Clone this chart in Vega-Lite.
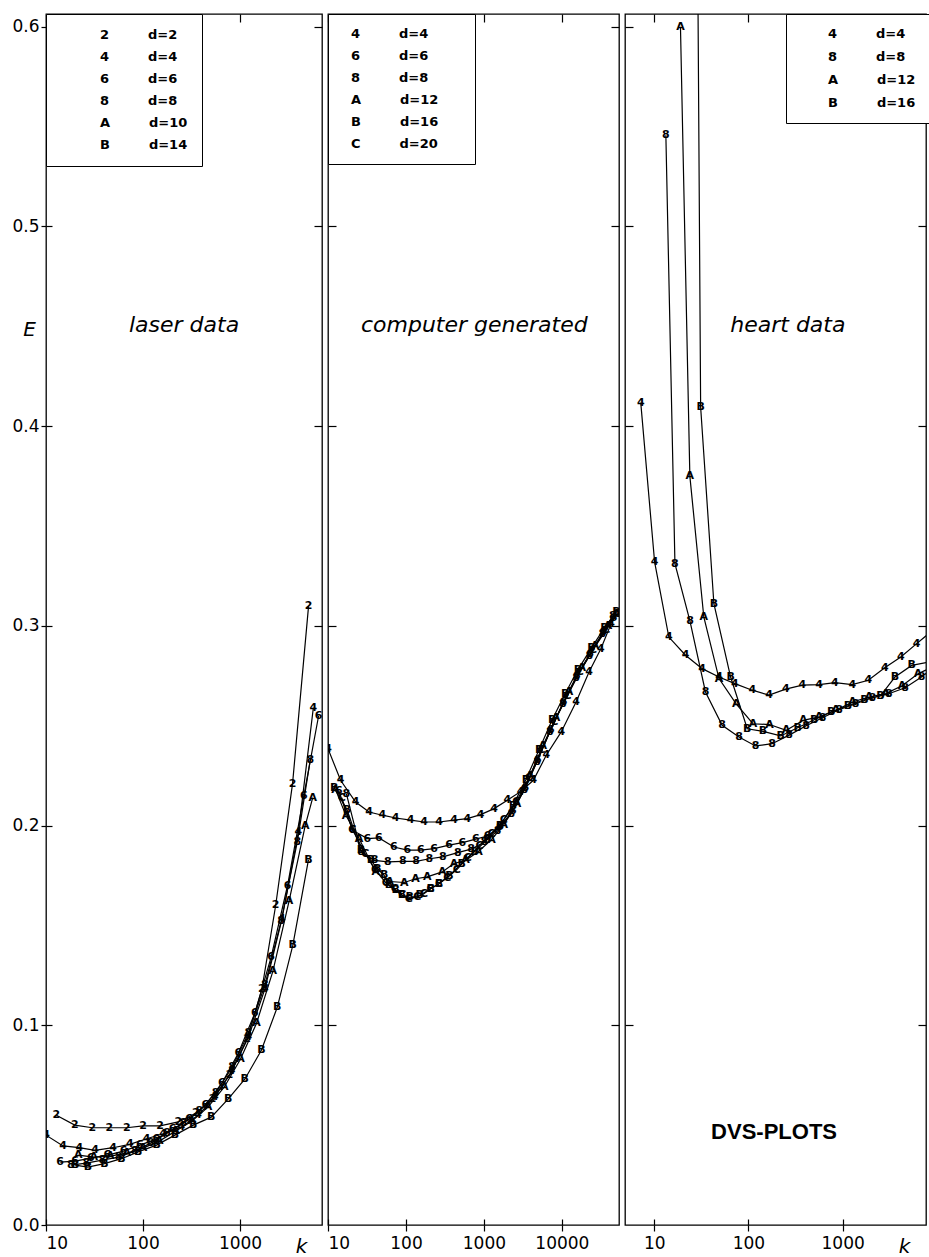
{
"$schema": "https://vega.github.io/schema/vega-lite/v6.json",
"background": "white",
"padding": {"left": 11, "top": 12, "right": 0, "bottom": 0},
"autosize": {"type": "pad"},
"bounds": "flush",
"spacing": 6,
"datasets": {
"laser": [
{"d":"d=2","s":"2","k":12.8,"E":0.055},{"d":"d=2","s":"2","k":19.8,"E":0.050},{"d":"d=2","s":"2","k":30,"E":0.0487},{"d":"d=2","s":"2","k":45,"E":0.0487},{"d":"d=2","s":"2","k":68,"E":0.0487},{"d":"d=2","s":"2","k":100,"E":0.0496},{"d":"d=2","s":"2","k":150,"E":0.0496},{"d":"d=2","s":"2","k":231,"E":0.0516},{"d":"d=2","s":"2","k":350,"E":0.056},{"d":"d=2","s":"2","k":520,"E":0.063},{"d":"d=2","s":"2","k":780,"E":0.075},{"d":"d=2","s":"2","k":1180,"E":0.093},{"d":"d=2","s":"2","k":1680,"E":0.118},{"d":"d=2","s":"2","k":2330,"E":0.160},{"d":"d=2","s":"2","k":3480,"E":0.221},{"d":"d=2","s":"2","k":5090,"E":0.310},
{"d":"d=4","s":"4","k":10,"E":0.045},{"d":"d=4","s":"4","k":15,"E":0.0396},{"d":"d=4","s":"4","k":22,"E":0.0387},{"d":"d=4","s":"4","k":32,"E":0.0374},{"d":"d=4","s":"4","k":49,"E":0.0387},{"d":"d=4","s":"4","k":73,"E":0.0404},{"d":"d=4","s":"4","k":109,"E":0.0432},{"d":"d=4","s":"4","k":161,"E":0.0457},{"d":"d=4","s":"4","k":249,"E":0.049},{"d":"d=4","s":"4","k":370,"E":0.055},{"d":"d=4","s":"4","k":550,"E":0.064},{"d":"d=4","s":"4","k":820,"E":0.077},{"d":"d=4","s":"4","k":1220,"E":0.094},{"d":"d=4","s":"4","k":1800,"E":0.118},{"d":"d=4","s":"4","k":2700,"E":0.153},{"d":"d=4","s":"4","k":4000,"E":0.197},{"d":"d=4","s":"4","k":5700,"E":0.259},
{"d":"d=6","s":"6","k":14,"E":0.0315},{"d":"d=6","s":"6","k":20,"E":0.032},{"d":"d=6","s":"6","k":29,"E":0.0335},{"d":"d=6","s":"6","k":43,"E":0.035},{"d":"d=6","s":"6","k":63,"E":0.037},{"d":"d=6","s":"6","k":93,"E":0.040},{"d":"d=6","s":"6","k":137,"E":0.043},{"d":"d=6","s":"6","k":202,"E":0.048},{"d":"d=6","s":"6","k":298,"E":0.053},{"d":"d=6","s":"6","k":440,"E":0.060},{"d":"d=6","s":"6","k":650,"E":0.071},{"d":"d=6","s":"6","k":960,"E":0.086},{"d":"d=6","s":"6","k":1420,"E":0.106},{"d":"d=6","s":"6","k":2090,"E":0.134},{"d":"d=6","s":"6","k":3090,"E":0.170},{"d":"d=6","s":"6","k":4550,"E":0.215},{"d":"d=6","s":"6","k":6460,"E":0.255},
{"d":"d=8","s":"8","k":18,"E":0.030},{"d":"d=8","s":"8","k":26,"E":0.031},{"d":"d=8","s":"8","k":38,"E":0.0325},{"d":"d=8","s":"8","k":56,"E":0.034},{"d":"d=8","s":"8","k":82,"E":0.037},{"d":"d=8","s":"8","k":120,"E":0.041},{"d":"d=8","s":"8","k":177,"E":0.046},{"d":"d=8","s":"8","k":260,"E":0.051},{"d":"d=8","s":"8","k":380,"E":0.057},{"d":"d=8","s":"8","k":560,"E":0.066},{"d":"d=8","s":"8","k":830,"E":0.079},{"d":"d=8","s":"8","k":1220,"E":0.096},{"d":"d=8","s":"8","k":1800,"E":0.120},{"d":"d=8","s":"8","k":2650,"E":0.152},{"d":"d=8","s":"8","k":3900,"E":0.192},{"d":"d=8","s":"8","k":5300,"E":0.233},
{"d":"d=10","s":"A","k":21.5,"E":0.035},{"d":"d=10","s":"A","k":31,"E":0.034},{"d":"d=10","s":"A","k":46,"E":0.0345},{"d":"d=10","s":"A","k":68,"E":0.036},{"d":"d=10","s":"A","k":100,"E":0.0385},{"d":"d=10","s":"A","k":147,"E":0.042},{"d":"d=10","s":"A","k":216,"E":0.047},{"d":"d=10","s":"A","k":318,"E":0.052},{"d":"d=10","s":"A","k":467,"E":0.059},{"d":"d=10","s":"A","k":686,"E":0.069},{"d":"d=10","s":"A","k":1010,"E":0.083},{"d":"d=10","s":"A","k":1480,"E":0.101},{"d":"d=10","s":"A","k":2180,"E":0.127},{"d":"d=10","s":"A","k":3200,"E":0.162},{"d":"d=10","s":"A","k":4700,"E":0.200},{"d":"d=10","s":"A","k":5620,"E":0.214},
{"d":"d=14","s":"B","k":20,"E":0.030},{"d":"d=14","s":"B","k":27,"E":0.029},{"d":"d=14","s":"B","k":40,"E":0.0307},{"d":"d=14","s":"B","k":60,"E":0.0332},{"d":"d=14","s":"B","k":89,"E":0.0366},{"d":"d=14","s":"B","k":138,"E":0.040},{"d":"d=14","s":"B","k":213,"E":0.045},{"d":"d=14","s":"B","k":330,"E":0.050},{"d":"d=14","s":"B","k":505,"E":0.054},{"d":"d=14","s":"B","k":753,"E":0.063},{"d":"d=14","s":"B","k":1120,"E":0.073},{"d":"d=14","s":"B","k":1660,"E":0.0875},{"d":"d=14","s":"B","k":2420,"E":0.109},{"d":"d=14","s":"B","k":3500,"E":0.140},{"d":"d=14","s":"B","k":5080,"E":0.183}
],
"computer": [
{"d":"d=4","s":"4","k":10,"E":0.2385},{"d":"d=4","s":"4","k":14.5,"E":0.2227},{"d":"d=4","s":"4","k":22.6,"E":0.2118},{"d":"d=4","s":"4","k":33.6,"E":0.2068},{"d":"d=4","s":"4","k":49.8,"E":0.2052},{"d":"d=4","s":"4","k":73.8,"E":0.2038},{"d":"d=4","s":"4","k":115,"E":0.2027},{"d":"d=4","s":"4","k":171,"E":0.2018},{"d":"d=4","s":"4","k":266,"E":0.2018},{"d":"d=4","s":"4","k":414,"E":0.2027},{"d":"d=4","s":"4","k":612,"E":0.2035},{"d":"d=4","s":"4","k":908,"E":0.2055},{"d":"d=4","s":"4","k":1349,"E":0.2085},{"d":"d=4","s":"4","k":2000,"E":0.2127},{"d":"d=4","s":"4","k":2950,"E":0.2170},{"d":"d=4","s":"4","k":4310,"E":0.2227},{"d":"d=4","s":"4","k":6300,"E":0.2352},{"d":"d=4","s":"4","k":9800,"E":0.2469},{"d":"d=4","s":"4","k":15200,"E":0.2619},{"d":"d=4","s":"4","k":22300,"E":0.2769},{"d":"d=4","s":"4","k":31600,"E":0.2886},{"d":"d=4","s":"4","k":42700,"E":0.301},
{"d":"d=6","s":"6","k":13.8,"E":0.2172},{"d":"d=6","s":"6","k":20.6,"E":0.1977},{"d":"d=6","s":"6","k":32,"E":0.1935},{"d":"d=6","s":"6","k":45,"E":0.1938},{"d":"d=6","s":"6","k":70,"E":0.1893},{"d":"d=6","s":"6","k":104,"E":0.1877},{"d":"d=6","s":"6","k":155,"E":0.1877},{"d":"d=6","s":"6","k":229,"E":0.1885},{"d":"d=6","s":"6","k":357,"E":0.1902},{"d":"d=6","s":"6","k":530,"E":0.1915},{"d":"d=6","s":"6","k":785,"E":0.1932},{"d":"d=6","s":"6","k":1110,"E":0.1948},{"d":"d=6","s":"6","k":1600,"E":0.1995},{"d":"d=6","s":"6","k":2350,"E":0.2075},{"d":"d=6","s":"6","k":3400,"E":0.2190},{"d":"d=6","s":"6","k":4900,"E":0.2330},{"d":"d=6","s":"6","k":7200,"E":0.2480},{"d":"d=6","s":"6","k":10500,"E":0.2620},{"d":"d=6","s":"6","k":15500,"E":0.2750},{"d":"d=6","s":"6","k":23000,"E":0.2860},{"d":"d=6","s":"6","k":34000,"E":0.2970},{"d":"d=6","s":"6","k":46000,"E":0.3040},
{"d":"d=8","s":"8","k":17.2,"E":0.216},{"d":"d=8","s":"8","k":26.6,"E":0.1868},{"d":"d=8","s":"8","k":39.5,"E":0.1826},{"d":"d=8","s":"8","k":58.5,"E":0.1818},{"d":"d=8","s":"8","k":91,"E":0.1821},{"d":"d=8","s":"8","k":135,"E":0.1821},{"d":"d=8","s":"8","k":200,"E":0.1834},{"d":"d=8","s":"8","k":296,"E":0.1843},{"d":"d=8","s":"8","k":461,"E":0.1865},{"d":"d=8","s":"8","k":684,"E":0.1882},{"d":"d=8","s":"8","k":1013,"E":0.1918},{"d":"d=8","s":"8","k":1500,"E":0.1975},{"d":"d=8","s":"8","k":2250,"E":0.2060},{"d":"d=8","s":"8","k":3300,"E":0.2180},{"d":"d=8","s":"8","k":4800,"E":0.2320},{"d":"d=8","s":"8","k":7000,"E":0.2470},{"d":"d=8","s":"8","k":10300,"E":0.2610},{"d":"d=8","s":"8","k":15200,"E":0.2740},{"d":"d=8","s":"8","k":22500,"E":0.2850},{"d":"d=8","s":"8","k":33000,"E":0.2960},{"d":"d=8","s":"8","k":45000,"E":0.3050},
{"d":"d=12","s":"A","k":12.5,"E":0.218},{"d":"d=12","s":"A","k":17,"E":0.205},{"d":"d=12","s":"A","k":25,"E":0.1935},{"d":"d=12","s":"A","k":41,"E":0.1768},{"d":"d=12","s":"A","k":62,"E":0.1720},{"d":"d=12","s":"A","k":95,"E":0.1715},{"d":"d=12","s":"A","k":133,"E":0.1734},{"d":"d=12","s":"A","k":187,"E":0.1743},{"d":"d=12","s":"A","k":292,"E":0.1768},{"d":"d=12","s":"A","k":412,"E":0.181},{"d":"d=12","s":"A","k":582,"E":0.1826},{"d":"d=12","s":"A","k":850,"E":0.187},{"d":"d=12","s":"A","k":1250,"E":0.193},{"d":"d=12","s":"A","k":1800,"E":0.2005},{"d":"d=12","s":"A","k":2650,"E":0.2110},{"d":"d=12","s":"A","k":3900,"E":0.2250},{"d":"d=12","s":"A","k":5700,"E":0.2400},{"d":"d=12","s":"A","k":8400,"E":0.2540},{"d":"d=12","s":"A","k":12300,"E":0.2670},{"d":"d=12","s":"A","k":18000,"E":0.2790},{"d":"d=12","s":"A","k":26500,"E":0.2900},{"d":"d=12","s":"A","k":39000,"E":0.3000},{"d":"d=12","s":"A","k":50000,"E":0.3060},
{"d":"d=16","s":"B","k":12,"E":0.219},{"d":"d=16","s":"B","k":17.5,"E":0.208},{"d":"d=16","s":"B","k":26.4,"E":0.1877},{"d":"d=16","s":"B","k":35.5,"E":0.1826},{"d":"d=16","s":"B","k":43,"E":0.1785},{"d":"d=16","s":"B","k":52.5,"E":0.1751},{"d":"d=16","s":"B","k":60.5,"E":0.1701},{"d":"d=16","s":"B","k":73.8,"E":0.1676},{"d":"d=16","s":"B","k":89,"E":0.1651},{"d":"d=16","s":"B","k":112,"E":0.1640},{"d":"d=16","s":"B","k":150,"E":0.1650},{"d":"d=16","s":"B","k":207,"E":0.1684},{"d":"d=16","s":"B","k":265,"E":0.1709},{"d":"d=16","s":"B","k":360,"E":0.1750},{"d":"d=16","s":"B","k":520,"E":0.1810},{"d":"d=16","s":"B","k":760,"E":0.1870},{"d":"d=16","s":"B","k":1100,"E":0.1930},{"d":"d=16","s":"B","k":1600,"E":0.2000},{"d":"d=16","s":"B","k":2350,"E":0.2100},{"d":"d=16","s":"B","k":3450,"E":0.2230},{"d":"d=16","s":"B","k":5100,"E":0.2380},{"d":"d=16","s":"B","k":7500,"E":0.2530},{"d":"d=16","s":"B","k":11000,"E":0.2660},{"d":"d=16","s":"B","k":16000,"E":0.2780},{"d":"d=16","s":"B","k":24000,"E":0.2890},{"d":"d=16","s":"B","k":35000,"E":0.2990},{"d":"d=16","s":"B","k":50000,"E":0.3070},
{"d":"d=20","s":"C","k":15,"E":0.214},{"d":"d=20","s":"C","k":20.5,"E":0.198},{"d":"d=20","s":"C","k":30,"E":0.1860},{"d":"d=20","s":"C","k":40,"E":0.1780},{"d":"d=20","s":"C","k":55,"E":0.1715},{"d":"d=20","s":"C","k":72,"E":0.1680},{"d":"d=20","s":"C","k":90,"E":0.1650},{"d":"d=20","s":"C","k":109,"E":0.1634},{"d":"d=20","s":"C","k":140,"E":0.1643},{"d":"d=20","s":"C","k":170,"E":0.1659},{"d":"d=20","s":"C","k":207,"E":0.1684},{"d":"d=20","s":"C","k":265,"E":0.1709},{"d":"d=20","s":"C","k":340,"E":0.1740},{"d":"d=20","s":"C","k":450,"E":0.1780},{"d":"d=20","s":"C","k":620,"E":0.1840},{"d":"d=20","s":"C","k":880,"E":0.1900},{"d":"d=20","s":"C","k":1250,"E":0.1960},{"d":"d=20","s":"C","k":1800,"E":0.2030},{"d":"d=20","s":"C","k":2600,"E":0.2120},{"d":"d=20","s":"C","k":3800,"E":0.2240},{"d":"d=20","s":"C","k":5500,"E":0.2380},{"d":"d=20","s":"C","k":8000,"E":0.2520},{"d":"d=20","s":"C","k":11800,"E":0.2650},{"d":"d=20","s":"C","k":17000,"E":0.2770},{"d":"d=20","s":"C","k":25000,"E":0.2880},{"d":"d=20","s":"C","k":37000,"E":0.2980},{"d":"d=20","s":"C","k":52000,"E":0.3060}
],
"heart": [
{"d":"d=4","s":"4","k":7.2,"E":0.4118},{"d":"d=4","s":"4","k":10.1,"E":0.332},{"d":"d=4","s":"4","k":14.3,"E":0.2944},{"d":"d=4","s":"4","k":21.5,"E":0.2853},{"d":"d=4","s":"4","k":32.3,"E":0.2786},{"d":"d=4","s":"4","k":48.7,"E":0.2744},{"d":"d=4","s":"4","k":71.8,"E":0.2711},{"d":"d=4","s":"4","k":109.8,"E":0.2678},{"d":"d=4","s":"4","k":165.6,"E":0.2653},{"d":"d=4","s":"4","k":248.6,"E":0.2683},{"d":"d=4","s":"4","k":373,"E":0.2703},{"d":"d=4","s":"4","k":563,"E":0.2706},{"d":"d=4","s":"4","k":828,"E":0.2716},{"d":"d=4","s":"4","k":1263,"E":0.2706},{"d":"d=4","s":"4","k":1873,"E":0.2728},{"d":"d=4","s":"4","k":2795,"E":0.279},{"d":"d=4","s":"4","k":4139,"E":0.2844},{"d":"d=4","s":"4","k":6100,"E":0.2911},{"d":"d=4","s":"4","k":8600,"E":0.297},
{"d":"d=8","s":"8","k":13.3,"E":0.5457},{"d":"d=8","s":"8","k":16.6,"E":0.3312},{"d":"d=8","s":"8","k":24.0,"E":0.3023},{"d":"d=8","s":"8","k":35.0,"E":0.2669},{"d":"d=8","s":"8","k":52.6,"E":0.2502},{"d":"d=8","s":"8","k":79.4,"E":0.2444},{"d":"d=8","s":"8","k":118.9,"E":0.2399},{"d":"d=8","s":"8","k":178.5,"E":0.241},{"d":"d=8","s":"8","k":270.7,"E":0.2453},{"d":"d=8","s":"8","k":410,"E":0.250},{"d":"d=8","s":"8","k":611,"E":0.2540},{"d":"d=8","s":"8","k":914,"E":0.2580},{"d":"d=8","s":"8","k":1374,"E":0.2610},{"d":"d=8","s":"8","k":2059,"E":0.2640},{"d":"d=8","s":"8","k":3083,"E":0.2660},{"d":"d=8","s":"8","k":4604,"E":0.2690},{"d":"d=8","s":"8","k":6863,"E":0.2744},{"d":"d=8","s":"8","k":8550,"E":0.278},
{"d":"d=12","s":"A","k":19.0,"E":0.600},{"d":"d=12","s":"A","k":23.9,"E":0.375},{"d":"d=12","s":"A","k":33.6,"E":0.3045},{"d":"d=12","s":"A","k":48.7,"E":0.2736},{"d":"d=12","s":"A","k":74.1,"E":0.261},{"d":"d=12","s":"A","k":111.6,"E":0.251},{"d":"d=12","s":"A","k":167.3,"E":0.2506},{"d":"d=12","s":"A","k":252.2,"E":0.2477},{"d":"d=12","s":"A","k":381.5,"E":0.2527},{"d":"d=12","s":"A","k":560.6,"E":0.2544},{"d":"d=12","s":"A","k":845.9,"E":0.2577},{"d":"d=12","s":"A","k":1271,"E":0.2619},{"d":"d=12","s":"A","k":1902,"E":0.2644},{"d":"d=12","s":"A","k":2867,"E":0.2661},{"d":"d=12","s":"A","k":4264,"E":0.2700},{"d":"d=12","s":"A","k":6306,"E":0.2760},{"d":"d=12","s":"A","k":8560,"E":0.2790},
{"d":"d=16","s":"B","k":27.9,"E":0.75},{"d":"d=16","s":"B","k":31.1,"E":0.4096},{"d":"d=16","s":"B","k":43.0,"E":0.3111},{"d":"d=16","s":"B","k":64.7,"E":0.2744},{"d":"d=16","s":"B","k":97.2,"E":0.2485},{"d":"d=16","s":"B","k":142.8,"E":0.2472},{"d":"d=16","s":"B","k":220.1,"E":0.2449},{"d":"d=16","s":"B","k":332.4,"E":0.2490},{"d":"d=16","s":"B","k":499.5,"E":0.2530},{"d":"d=16","s":"B","k":756.8,"E":0.2570},{"d":"d=16","s":"B","k":1137,"E":0.2600},{"d":"d=16","s":"B","k":1698,"E":0.2630},{"d":"d=16","s":"B","k":2518,"E":0.2650},{"d":"d=16","s":"B","k":3589,"E":0.2744},{"d":"d=16","s":"B","k":5398,"E":0.2802},{"d":"d=16","s":"B","k":8570,"E":0.2820}
]
},
"hconcat": [
{
"width": 276, "height": 1211,
"data": {"name": "laser"},
"resolve": {"axis": {"x": "independent", "y": "independent"}},
"layer": [
{"mark": {"type": "line", "strokeWidth": 1.2, "clip": true},
 "encoding": {
  "x": {"field": "k", "type": "quantitative", "scale": {"type": "log", "domain": [10, 7000], "nice": false},
        "axis": {"orient": "bottom", "values": [10, 100, 1000], "format": "d", "tickSize": 6, "labelPadding": 4, "labelFontSize": 17, "title": "k", "titleFontStyle": "italic", "titleFontWeight": "normal", "titleFontSize": 20, "titleX": 255, "titleY": 21, "titleAlign": "center", "titleBaseline": "middle"}},
  "y": {"field": "E", "type": "quantitative", "scale": {"domain": [0, 0.6064], "nice": false, "zero": false},
        "axis": {"orient": "left", "values": [0, 0.1, 0.2, 0.3, 0.4, 0.5, 0.6], "format": ".1f", "tickSize": 5, "labelPadding": 2, "labelFontSize": 17, "title": "E", "titleAngle": 0, "titleFontStyle": "italic", "titleFontWeight": "normal", "titleFontSize": 20, "titleX": -17, "titleY": 315, "titleAlign": "center", "titleBaseline": "middle"}},
  "color": {"field": "d", "type": "nominal",
        "scale": {"domain": ["d=2", "d=4", "d=6", "d=8", "d=10", "d=14"], "range": ["black", "black", "black", "black", "black", "black"]},
        "legend": {"orient": "none", "legendX": 0, "legendY": 0, "title": null, "padding": 14, "rowPadding": 8, "labelOffset": 27, "symbolSize": 0, "symbolStrokeWidth": 0, "symbolOpacity": 0, "labelFont": "DejaVu Sans", "labelFontWeight": "bold", "labelFontSize": 13, "labelColor": "black", "strokeColor": "black", "fillColor": "white",
          "labelExpr": "['2','4','6','8','A','B'][indexof(['d=2','d=4','d=6','d=8','d=10','d=14'], datum.label)] + '\u2003\u2003\u2003' + datum.label"}}
 }},
{"mark": {"type": "text", "font": "DejaVu Sans", "fontSize": 11, "fontWeight": "bold", "clip": true, "color": "black"},
 "encoding": {
  "x": {"field": "k", "type": "quantitative", "scale": {"type": "log", "domain": [10, 7000], "nice": false},
        "axis": {"orient": "top", "values": [10, 100, 1000], "labels": false, "tickSize": -8, "title": null}},
  "y": {"field": "E", "type": "quantitative", "scale": {"domain": [0, 0.6064], "nice": false, "zero": false},
        "axis": {"orient": "right", "values": [0.1, 0.2, 0.3, 0.4, 0.5, 0.6], "labels": false, "tickSize": -8, "title": null}},
  "text": {"field": "s"}
 }},
{"mark": {"type": "point", "opacity": 0, "clip": true},
 "encoding": {
  "x": {"field": "k", "type": "quantitative", "scale": {"type": "log", "domain": [10, 7000], "nice": false},
        "axis": {"orient": "bottom", "values": [10, 100, 1000], "labels": false, "tickSize": -6, "title": null}},
  "y": {"field": "E", "type": "quantitative", "scale": {"domain": [0, 0.6064], "nice": false, "zero": false},
        "axis": {"orient": "left", "values": [0.1, 0.2, 0.3, 0.4, 0.5, 0.6], "labels": false, "tickSize": -6, "title": null}}
 }},
{"data": {"values": [{}]},
 "mark": {"type": "text", "font": "DejaVu Sans", "fontStyle": "italic", "fontSize": 22, "color": "black"},
 "encoding": {
  "x": {"datum": 265, "type": "quantitative", "axis": null},
  "y": {"datum": 0.4507, "type": "quantitative", "axis": null},
  "text": {"value": "laser data"}
 }}
]
},
{
"width": 291, "height": 1211,
"data": {"name": "computer"},
"resolve": {"axis": {"x": "independent", "y": "independent"}},
"layer": [
{"mark": {"type": "line", "strokeWidth": 1.2, "clip": true},
 "encoding": {
  "x": {"field": "k", "type": "quantitative", "scale": {"type": "log", "domain": [10, 54000], "nice": false},
        "axis": {"orient": "bottom", "values": [10, 100, 1000, 10000], "format": "d", "tickSize": 6, "labelPadding": 4, "labelFontSize": 17, "title": null}},
  "y": {"field": "E", "type": "quantitative", "scale": {"domain": [0, 0.6064], "nice": false, "zero": false},
        "axis": {"orient": "left", "values": [0.1, 0.2, 0.3, 0.4, 0.5, 0.6], "labels": false, "tickSize": -8, "title": null}},
  "color": {"field": "d", "type": "nominal",
        "scale": {"domain": ["d=4", "d=6", "d=8", "d=12", "d=16", "d=20"], "range": ["black", "black", "black", "black", "black", "black"]},
        "legend": {"orient": "none", "legendX": 0, "legendY": 0, "title": null, "padding": 13, "rowPadding": 8, "labelOffset": -3, "symbolSize": 0, "symbolStrokeWidth": 0, "symbolOpacity": 0, "labelFont": "DejaVu Sans", "labelFontWeight": "bold", "labelFontSize": 13, "labelColor": "black", "strokeColor": "black", "fillColor": "white",
          "labelExpr": "['4','6','8','A','B','C'][indexof(['d=4','d=6','d=8','d=12','d=16','d=20'], datum.label)] + '\u2003\u2003\u2003' + datum.label + '\u2003\u2800'"}}
 }},
{"mark": {"type": "text", "font": "DejaVu Sans", "fontSize": 11, "fontWeight": "bold", "clip": true, "color": "black"},
 "encoding": {
  "x": {"field": "k", "type": "quantitative", "scale": {"type": "log", "domain": [10, 54000], "nice": false},
        "axis": {"orient": "top", "values": [10, 100, 1000, 10000], "labels": false, "tickSize": -8, "title": null}},
  "y": {"field": "E", "type": "quantitative", "scale": {"domain": [0, 0.6064], "nice": false, "zero": false},
        "axis": {"orient": "right", "values": [0.1, 0.2, 0.3, 0.4, 0.5, 0.6], "labels": false, "tickSize": -8, "title": null}},
  "text": {"field": "s"}
 }},
{"mark": {"type": "point", "opacity": 0, "clip": true},
 "encoding": {
  "x": {"field": "k", "type": "quantitative", "scale": {"type": "log", "domain": [10, 54000], "nice": false},
        "axis": {"orient": "bottom", "values": [10, 100, 1000, 10000], "labels": false, "tickSize": -6, "title": null}},
  "y": {"field": "E", "type": "quantitative", "scale": {"domain": [0, 0.6064], "nice": false, "zero": false}, "axis": null}
 }},
{"data": {"values": [{}]},
 "mark": {"type": "text", "font": "DejaVu Sans", "fontStyle": "italic", "fontSize": 22, "color": "black"},
 "encoding": {
  "x": {"datum": 753, "type": "quantitative", "axis": null},
  "y": {"datum": 0.4507, "type": "quantitative", "axis": null},
  "text": {"value": "computer generated"}
 }}
]
},
{
"width": 301, "height": 1211,
"data": {"name": "heart"},
"resolve": {"axis": {"x": "independent", "y": "independent"}},
"layer": [
{"mark": {"type": "line", "strokeWidth": 1.2, "clip": true},
 "encoding": {
  "x": {"field": "k", "type": "quantitative", "scale": {"type": "log", "domain": [4.9, 7660], "nice": false},
        "axis": {"orient": "bottom", "values": [10, 100, 1000], "format": "d", "tickSize": 6, "labelPadding": 4, "labelFontSize": 17, "title": "k", "titleFontStyle": "italic", "titleFontWeight": "normal", "titleFontSize": 20, "titleX": 279, "titleY": 21, "titleAlign": "center", "titleBaseline": "middle"}},
  "y": {"field": "E", "type": "quantitative", "scale": {"domain": [0, 0.6064], "nice": false, "zero": false},
        "axis": {"orient": "left", "values": [0.1, 0.2, 0.3, 0.4, 0.5, 0.6], "labels": false, "tickSize": -8, "title": null}},
  "color": {"field": "d", "type": "nominal",
        "scale": {"domain": ["d=4", "d=8", "d=12", "d=16"], "range": ["black", "black", "black", "black"]},
        "legend": {"orient": "none", "legendX": 161, "legendY": 0, "title": null, "padding": 13, "rowPadding": 9, "labelOffset": 16, "symbolSize": 0, "symbolStrokeWidth": 0, "symbolOpacity": 0, "labelFont": "DejaVu Sans", "labelFontWeight": "bold", "labelFontSize": 13, "labelColor": "black", "strokeColor": "black", "fillColor": "white",
          "labelExpr": "['4','8','A','B'][indexof(['d=4','d=8','d=12','d=16'], datum.label)] + '\u2003\u2003\u2003' + datum.label"}}
 }},
{"mark": {"type": "text", "font": "DejaVu Sans", "fontSize": 11, "fontWeight": "bold", "clip": true, "color": "black"},
 "encoding": {
  "x": {"field": "k", "type": "quantitative", "scale": {"type": "log", "domain": [4.9, 7660], "nice": false},
        "axis": {"orient": "top", "values": [10, 100, 1000], "labels": false, "tickSize": -8, "title": null}},
  "y": {"field": "E", "type": "quantitative", "scale": {"domain": [0, 0.6064], "nice": false, "zero": false},
        "axis": {"orient": "right", "values": [0.1, 0.2, 0.3, 0.4, 0.5, 0.6], "labels": false, "tickSize": -8, "title": null}},
  "text": {"field": "s"}
 }},
{"mark": {"type": "point", "opacity": 0, "clip": true},
 "encoding": {
  "x": {"field": "k", "type": "quantitative", "scale": {"type": "log", "domain": [4.9, 7660], "nice": false},
        "axis": {"orient": "bottom", "values": [10, 100, 1000], "labels": false, "tickSize": -6, "title": null}},
  "y": {"field": "E", "type": "quantitative", "scale": {"domain": [0, 0.6064], "nice": false, "zero": false}, "axis": null}
 }},
{"data": {"values": [{}]},
 "mark": {"type": "text", "font": "DejaVu Sans", "fontStyle": "italic", "fontSize": 22, "color": "black"},
 "encoding": {
  "x": {"datum": 262, "type": "quantitative", "axis": null},
  "y": {"datum": 0.4507, "type": "quantitative", "axis": null},
  "text": {"value": "heart data"}
 }},
{"data": {"values": [{}]},
 "mark": {"type": "text", "font": "Liberation Sans", "fontWeight": "bold", "fontSize": 22, "color": "black"},
 "encoding": {
  "x": {"datum": 187, "type": "quantitative", "axis": null},
  "y": {"datum": 0.0466, "type": "quantitative", "axis": null},
  "text": {"value": "DVS-PLOTS"}
 }}
]
}
],
"resolve": {"scale": {"x": "independent", "y": "independent", "color": "independent"}, "legend": {"color": "independent"}},
"config": {
 "view": {"stroke": "black", "strokeWidth": 1.3},
 "axis": {"domain": false, "grid": false, "tickColor": "black", "tickWidth": 1.2, "labelColor": "black", "titleColor": "black", "labelFont": "DejaVu Sans", "titleFont": "DejaVu Sans"}
}
}
